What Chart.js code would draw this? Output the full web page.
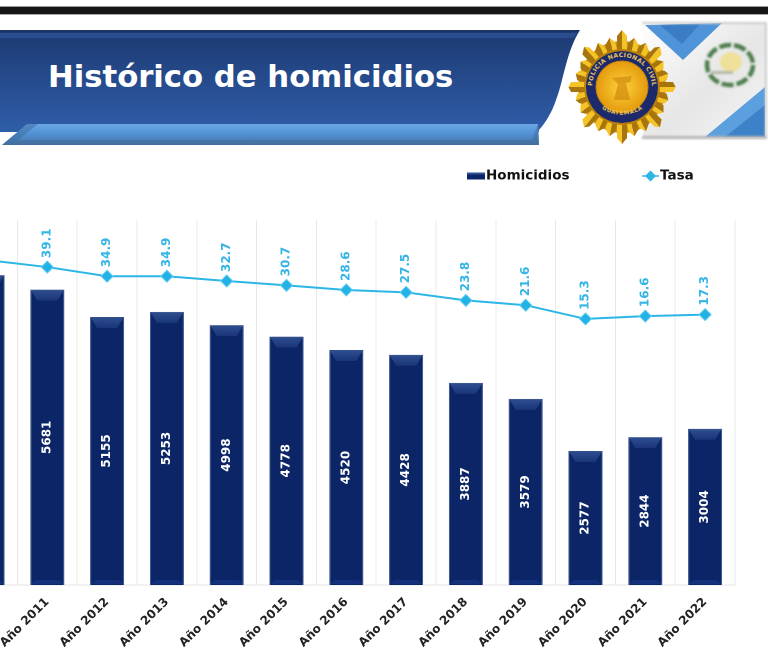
<!DOCTYPE html>
<html>
<head>
<meta charset="utf-8">
<title>Histórico de homicidios</title>
<script src="https://cdn.jsdelivr.net/npm/chart.js@4"></script>
<style>
    html, body { margin: 0; padding: 0; background: #fff; }
    #page { position: relative; width: 768px; height: 657px; overflow: hidden; background: #fff; }
    #header { position: absolute; left: 0; top: 0; }
    #chart { position: absolute; left: -60px; top: 150px; }
</style>
</head>
<body>
<div id="page">
<svg id="header" width="768" height="150" viewBox="0 0 768 150" xmlns="http://www.w3.org/2000/svg">
    <defs>
        <linearGradient id="band" x1="0" y1="0" x2="0" y2="1">
            <stop offset="0" stop-color="#1d3a73"/>
            <stop offset="0.12" stop-color="#1f3d78"/>
            <stop offset="1" stop-color="#2f5ea9"/>
        </linearGradient>
        <linearGradient id="strip" x1="0" y1="0" x2="0" y2="1">
            <stop offset="0" stop-color="#6aa9e4"/>
            <stop offset="0.5" stop-color="#4f8fd2"/>
            <stop offset="1" stop-color="#46739f"/>
        </linearGradient>
        <radialGradient id="gold">
            <stop offset="0" stop-color="#ffd23c"/>
            <stop offset="1" stop-color="#e39a0c"/>
        </radialGradient>
        <linearGradient id="fold" x1="0" y1="0" x2="1" y2="1">
            <stop offset="0" stop-color="#ffffff"/>
            <stop offset="0.55" stop-color="#e6e6e6"/>
            <stop offset="1" stop-color="#f6f6f6"/>
        </linearGradient>
        <filter id="soft"><feGaussianBlur stdDeviation="0.6"/></filter>
        <filter id="softer"><feGaussianBlur stdDeviation="1.3"/></filter>
        <path id="ringTop" d="M 592 87 A 30 30 0 0 1 652 87"/>
        <path id="ringBottom" d="M 595 95 A 32 32 0 0 0 649 95"/>
    </defs>

    <rect x="0" y="6" width="768" height="1" fill="#999"/>
    <rect x="0" y="7" width="768" height="7" fill="#161616"/>
    <rect x="0" y="14" width="768" height="1" fill="#aaa"/>

    <path d="M0 30 H580 C 566 52 564 80 556 100 C 552 112 546 122 539 130 V132 H0 Z" fill="url(#band)"/>
    <rect x="0" y="30" width="578" height="2" fill="#1a3468"/>
    <path d="M0 33 H577 L574 38 H0 Z" fill="#2a4d8e"/>
    <path d="M2 145 L27 124 H538 L539 145 Z" fill="url(#strip)"/>
    <path d="M2 145 L27 124 H38 L18 140 H532 L538 124 L539 145 Z" fill="#3f6d9f" opacity="0.55"/>
    <text x="48" y="87" font-family="'DejaVu Sans'" font-weight="700" font-size="30.7" fill="#fff">Histórico de homicidios</text>

    <g filter="url(#soft)">
        <rect x="643" y="23" width="123" height="114" fill="url(#fold)"/>
        <polygon points="645,25 722,23 683,60" fill="#4f93d8"/>
        <polygon points="660,25 700,24 682,44" fill="#3b7dc4"/>
        <polygon points="705,137 765,87 765,137" fill="#5b9fdf"/>
        <polygon points="725,137 765,105 765,137" fill="#3e82c8"/>
    </g>
    <g filter="url(#softer)">
        <rect x="642" y="22" width="125" height="2" fill="#ccc"/>
        <rect x="765" y="22" width="2" height="116" fill="#ccc"/>
        <rect x="642" y="136" width="125" height="3" fill="#b5b5b5"/>
        <ellipse cx="730" cy="65" rx="23" ry="20" fill="none" stroke="#4f7f4e" stroke-width="4.5" stroke-dasharray="12 3"/>
        <ellipse cx="731" cy="62" rx="11" ry="10" fill="#efe09a"/>
        <rect x="711" y="71" width="22" height="3" fill="#b8b8a8"/>
    </g>

    <g id="badge" filter="url(#soft)"></g>
    <circle cx="622" cy="87" r="38" fill="#b97f0a"/>
    <circle cx="622" cy="87" r="36" fill="#1c2a6b"/>
    <circle cx="622" cy="87" r="26" fill="url(#gold)" stroke="#c4860c" stroke-width="1"/>
    <path d="M612 78 L632 76 L630 82 L626 83 L630 100 L614 100 L618 84 Z" fill="#d28d10" opacity="0.75"/>
    <text font-family="'DejaVu Sans'" font-weight="700" font-size="6" fill="#e8c25a"><textPath href="#ringTop" startOffset="50%" text-anchor="middle" textLength="92">POLICIA NACIONAL CIVIL</textPath></text>
    <text font-family="'DejaVu Sans'" font-weight="700" font-size="5.5" fill="#e8c25a" dy="5"><textPath href="#ringBottom" startOffset="50%" text-anchor="middle">GUATEMALA</textPath></text>
</svg>
<canvas id="chart" width="828" height="507"></canvas>
</div>

<script>
// badge rays, only decoration of the header
let badge = document.getElementById('badge');
let rays = '<ellipse cx="622" cy="87" rx="44" ry="46" fill="#c98f12"/>';
for (let i = 0; i < 24; i++) {
    let a = i * Math.PI / 12 - Math.PI / 2;
    let len = i % 3 == 0 ? 57 : 51;
    let tipX = 622 + Math.cos(a) * len * 0.94, tipY = 87 + Math.sin(a) * len;
    let sideX = Math.cos(a + Math.PI / 2) * 5, sideY = Math.sin(a + Math.PI / 2) * 5;
    let midX = 622 + Math.cos(a) * (len - 6), midY = 87 + Math.sin(a) * (len - 6);
    let baseX = 622 + Math.cos(a) * 34, baseY = 87 + Math.sin(a) * 34;
    rays += '<polygon points="' + (baseX + sideX) + ',' + (baseY + sideY) + ' ' + (midX + sideX) + ',' + (midY + sideY) + ' ' + tipX + ',' + tipY + ' ' + baseX + ',' + baseY + '" fill="#f4c326"/>';
    rays += '<polygon points="' + (baseX - sideX) + ',' + (baseY - sideY) + ' ' + (midX - sideX) + ',' + (midY - sideY) + ' ' + tipX + ',' + tipY + ' ' + baseX + ',' + baseY + '" fill="#a8750c"/>';
}
badge.innerHTML = rays;

// data
const years = ['Año 2010', 'Año 2011', 'Año 2012', 'Año 2013', 'Año 2014', 'Año 2015', 'Año 2016', 'Año 2017', 'Año 2018', 'Año 2019', 'Año 2020', 'Año 2021', 'Año 2022'];
const homicidios = [5960, 5681, 5155, 5253, 4998, 4778, 4520, 4428, 3887, 3579, 2577, 2844, 3004];
const tasa = [42.3, 39.1, 34.9, 34.9, 32.7, 30.7, 28.6, 27.5, 23.8, 21.6, 15.3, 16.6, 17.3];

const FONT = "'DejaVu Sans'";
const BAR_COLOR = '#0b2567';
const LINE_COLOR = '#2bb6e6';

// bevel on the bars and the rotated value labels
const barLabels = {
    id: 'barLabels',
    afterDatasetsDraw(chart) {
        let ctx = chart.ctx;
        ctx.save();
        chart.getDatasetMeta(1).data.forEach(function (bar) {
            let left = bar.x - bar.width / 2, right = bar.x + bar.width / 2;
            let grad = ctx.createLinearGradient(0, bar.y, 0, bar.y + 11);
            grad.addColorStop(0, '#2f4f90');
            grad.addColorStop(1, '#1a3678');
            ctx.fillStyle = grad;
            ctx.beginPath();
            ctx.moveTo(left + 1, bar.y + 1);
            ctx.lineTo(right - 1, bar.y + 1);
            ctx.lineTo(right - 7, bar.y + 11);
            ctx.lineTo(left + 7, bar.y + 11);
            ctx.closePath();
            ctx.fill();
            ctx.fillStyle = '#14307a';
            ctx.beginPath();
            ctx.moveTo(left + 1, bar.base - 1);
            ctx.lineTo(right - 1, bar.base - 1);
            ctx.lineTo(right - 5, bar.base - 5);
            ctx.lineTo(left + 5, bar.base - 5);
            ctx.closePath();
            ctx.fill();
        });
        ctx.textAlign = 'center';
        ctx.textBaseline = 'middle';
        ctx.font = 'bold 12px ' + FONT;
        ctx.fillStyle = '#fff';
        chart.getDatasetMeta(1).data.forEach(function (bar, i) {
            ctx.save();
            ctx.translate(bar.x, (bar.y + bar.base) / 2);
            ctx.rotate(-Math.PI / 2);
            ctx.fillText(homicidios[i], 0, 0);
            ctx.restore();
        });
        ctx.textAlign = 'left';
        ctx.fillStyle = '#35b4e6';
        chart.getDatasetMeta(0).data.forEach(function (pt, i) {
            ctx.save();
            ctx.translate(pt.x, pt.y - 9);
            ctx.rotate(-Math.PI / 2);
            ctx.fillText(tasa[i].toFixed(1), 0, 0);
            ctx.restore();
        });
        ctx.restore();
    }
};

// legend sits apart from the plot in the original
const sideLegend = {
    id: 'sideLegend',
    afterDraw(chart) {
        let ctx = chart.ctx;
        ctx.save();
        ctx.font = 'bold 13.5px ' + FONT;
        ctx.textBaseline = 'middle';
        ctx.fillStyle = BAR_COLOR;
        ctx.fillRect(527, 22.5, 18, 7);
        ctx.fillStyle = '#2f4f90';
        ctx.fillRect(527, 22.5, 18, 2);
        ctx.fillStyle = '#111';
        ctx.fillText(chart.data.datasets[1].label, 546, 26);
        ctx.strokeStyle = LINE_COLOR;
        ctx.lineWidth = 1.5;
        ctx.beginPath();
        ctx.moveTo(702, 26);
        ctx.lineTo(719, 26);
        ctx.stroke();
        ctx.fillStyle = LINE_COLOR;
        ctx.beginPath();
        ctx.moveTo(710.5, 20.5);
        ctx.lineTo(716, 26);
        ctx.lineTo(710.5, 31.5);
        ctx.lineTo(705, 26);
        ctx.closePath();
        ctx.fill();
        ctx.fillStyle = '#111';
        ctx.fillText(chart.data.datasets[0].label, 720, 26);
        ctx.restore();
    }
};

let graph = new Chart(document.getElementById('chart'), {
    data: {
        labels: years,
        datasets: [{
            type: 'line',
            label: 'Tasa',
            data: tasa,
            yAxisID: 'yTasa',
            borderColor: LINE_COLOR,
            borderWidth: 2,
            backgroundColor: '#22b2e6',
            pointStyle: 'rectRot',
            pointRadius: 6,
            pointBorderColor: '#5fcdf0',
            pointBorderWidth: 1,
            tension: 0,
            order: 1
        }, {
            type: 'bar',
            label: 'Homicidios',
            data: homicidios,
            yAxisID: 'y',
            backgroundColor: BAR_COLOR,
            borderColor: '#34508c',
            borderWidth: 1,
            barPercentage: 0.57,
            categoryPercentage: 1,
            order: 2
        }]
    },
    options: {
        responsive: false,
        animation: false,
        devicePixelRatio: 2,
        layout: { padding: { left: 17.6, right: 33, top: 70, bottom: 0 } },
        plugins: {
            legend: { display: false },
            title: { display: false },
            tooltip: { enabled: false }
        },
        scales: {
            x: {
                grid: { color: '#e8e8e8', tickLength: 0 },
                border: { color: '#e4e4e4' },
                afterFit(scale) {
                    scale.height = 72;
                    // first rotated label must not push the plot to the right
                    scale.paddingLeft = 0;
                    scale.paddingRight = 0;
                },
                ticks: {
                    autoSkip: false,
                    minRotation: 45,
                    maxRotation: 45,
                    padding: 10,
                    color: '#222',
                    font: { family: FONT, weight: 'bold', size: 12 }
                }
            },
            y: { display: false, min: 0, max: 7020 },
            yTasa: { display: false, min: -106.8, max: 60.7 }
        }
    },
    plugins: [barLabels, sideLegend]
});
</script>
</body>
</html>
